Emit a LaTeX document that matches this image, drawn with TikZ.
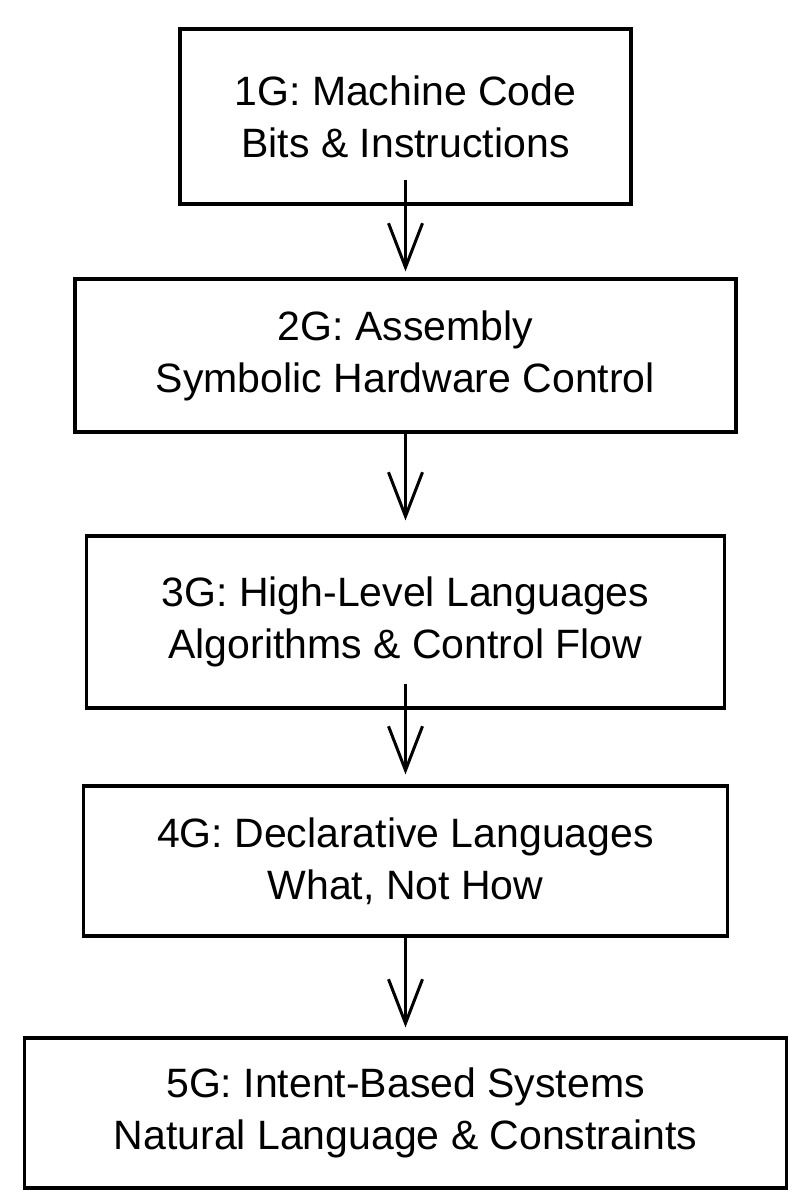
\documentclass[tikz,border=0pt]{standalone}
\usepackage{fontspec}
\setmainfont{Liberation Sans}
\usepackage{tikz}
\usetikzlibrary{arrows.meta}

\begin{document}
\begin{tikzpicture}[x = 1pt, y = 1pt,
    blocco/.style = {draw, rectangle, line width = 1.6pt, align = center, inner sep = 0pt, font = \fontsize{20.5}{26}\selectfont},
    freccia/.style = {line width = 1.5pt, -{Straight Barb[length = 22pt, width = 17pt, line width = 1.5pt]}}]
    % Parametri
    \pgfmathsetmacro{\xc}{202.75}
    \pgfmathsetmacro{\larg}{405}
    \pgfmathsetmacro{\alt}{600}
    % Cornice
    \useasboundingbox (0,0) rectangle (\larg,-\alt);
    % Blocchi
    \node[blocco, minimum width = 225.5pt, minimum height = 87.5pt] (g1) at (\xc,-58.25) {1G: Machine Code\\Bits \& Instructions};
    \node[blocco, minimum width = 330.5pt, minimum height = 76.5pt] (g2) at (\xc,-177.75) {2G: Assembly\\Symbolic Hardware Control};
    \node[blocco, minimum width = 319pt, minimum height = 86pt] (g3) at (\xc,-311) {3G: High-Level Languages\\Algorithms \& Control Flow};
    \node[blocco, minimum width = 322pt, minimum height = 75pt] (g4) at (\xc,-430.5) {4G: Declarative Languages\\What, Not How};
    \node[blocco, minimum width = 381pt, minimum height = 75pt] (g5) at (\xc,-556.5) {5G: Intent-Based Systems\\Natural Language \& Constraints};
    % Frecce
    \draw[freccia] ([yshift = 13pt]g1.south) -- ([yshift = 3pt]g2.north);
    \draw[freccia] (g2.south) -- ([yshift = 7pt]g3.north);
    \draw[freccia] ([yshift = 13pt]g3.south) -- ([yshift = 5pt]g4.north);
    \draw[freccia] (g4.south) -- ([yshift = 4.5pt]g5.north);
\end{tikzpicture}
\end{document}
